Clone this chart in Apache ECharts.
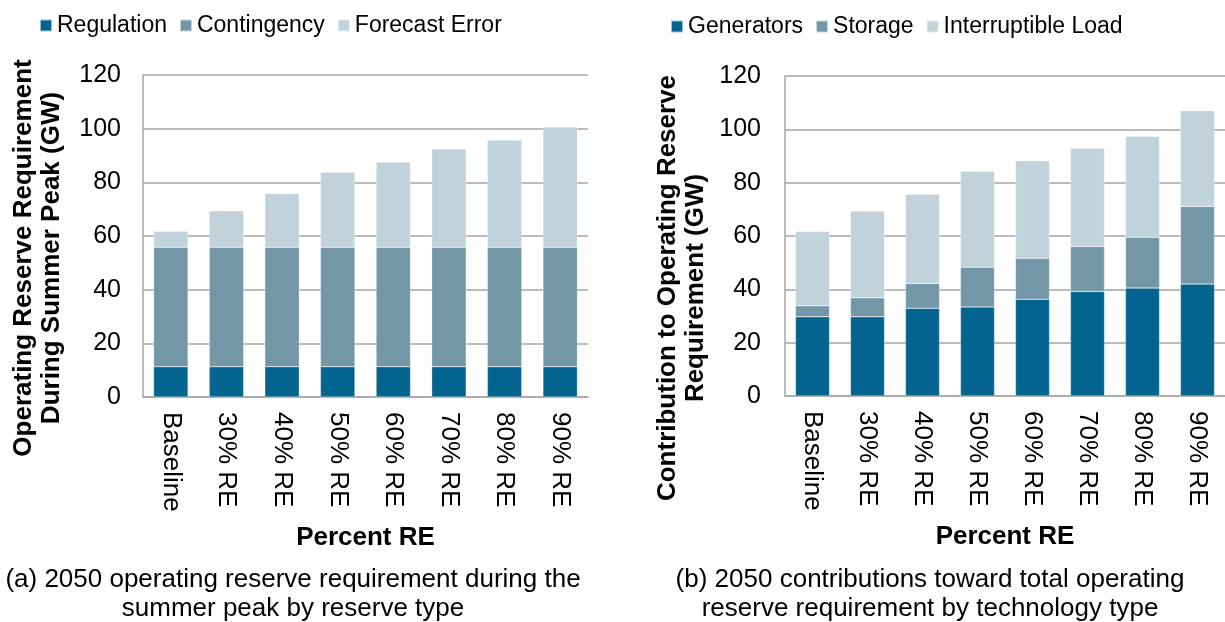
<!DOCTYPE html>
<html>
<head>
<meta charset="utf-8">
<script src="https://cdn.jsdelivr.net/npm/echarts@6/dist/echarts.min.js"></script>
<style>
  html, body { margin: 0; padding: 0; background: #fff; }
  #chart { width: 1225px; height: 622px; }
</style>
</head>
<body>
<div id="chart"></div>
<script>
// categories shared by both panels
var categories = ['Baseline', '30% RE', '40% RE', '50% RE', '60% RE', '70% RE', '80% RE', '90% RE'];

// (a) reserve type, GW
var regulation    = [11.3, 11.3, 11.3, 11.3, 11.3, 11.3, 11.3, 11.3];
var contingency   = [44.5, 44.5, 44.5, 44.5, 44.5, 44.5, 44.5, 44.5];
var forecastError = [6, 13.6, 20, 28, 31.8, 36.6, 40, 44.8];

// (b) technology type, GW
var generators    = [29.7, 29.7, 32.9, 33.4, 36.3, 39.2, 40.5, 42.0];
var storage       = [4.1, 7.1, 9.3, 14.9, 15.4, 16.9, 19.0, 29.1];
var interruptible = [27.9, 32.6, 33.5, 36.0, 36.5, 36.8, 37.9, 35.9];

var yTicks = [0, 20, 40, 60, 80, 100, 120];

var dark = '#03658f', mid = '#7397a7', light = '#c0d2da';
var gridColor = '#a6a6a6';
var font = 'Arial, "Liberation Sans", sans-serif';

var chart = echarts.init(document.getElementById('chart'));

function xAxisOf(i) {
  return {
    type: 'category',
    gridIndex: i,
    data: categories,
    axisTick: {show: false},
    axisLine: {lineStyle: {color: gridColor, width: 1.5}},
    axisLabel: {
      rotate: -90,
      margin: 15,
      fontSize: 26,
      fontFamily: font,
      color: '#000'
    },
    name: 'Percent RE',
    nameLocation: 'middle',
    nameGap: 128,
    nameTextStyle: {fontSize: 26, fontWeight: 'bold', fontFamily: font, color: '#000'}
  };
}

function yAxisOf(i, title, gap, labelGap, shift) {
  return {
    type: 'value',
    gridIndex: i,
    min: yTicks[0],
    max: yTicks[yTicks.length - 1],
    interval: 20,
    axisLine: {show: true, lineStyle: {color: gridColor, width: 1.5}},
    axisTick: {show: false},
    splitLine: {lineStyle: {color: gridColor, width: 1.5}},
    axisLabel: {margin: labelGap, fontSize: 25, fontFamily: font, color: '#000'},
    name: title,
    nameLocation: 'middle',
    nameGap: gap,
    nameRotate: 90,
    nameTextStyle: {fontSize: 26, fontWeight: 'bold', fontFamily: font, color: '#000',
                    lineHeight: 28, padding: [0, shift, 0, 0]}
  };
}

function bar(name, data, color, i) {
  return {
    name: name,
    type: 'bar',
    stack: 's' + i,
    xAxisIndex: i,
    yAxisIndex: i,
    data: data,
    barWidth: '62%',
    itemStyle: {color: color, borderColor: 'rgba(255,255,255,0.6)', borderWidth: 0.5}
  };
}

var legendText = {fontSize: 23, fontFamily: font, color: '#000'};

chart.setOption({
  animation: false,
  grid: [
    {left: 143, right: 637, top: 75, bottom: 225, outerBoundsMode: 'none'},
    {left: 785, right: 0, top: 76, bottom: 226, outerBoundsMode: 'none'}
  ],
  legend: [
    {left: 34, top: 9, icon: 'rect', itemWidth: 12, itemHeight: 12, itemGap: 12,
     textStyle: legendText, data: ['Regulation', 'Contingency', 'Forecast Error']},
    {left: 665, top: 10, icon: 'rect', itemWidth: 12, itemHeight: 12, itemGap: 12,
     textStyle: legendText, data: ['Generators', 'Storage', 'Interruptible Load']}
  ],
  xAxis: [xAxisOf(0), xAxisOf(1)],
  yAxis: [
    yAxisOf(0, 'Operating Reserve Requirement\nDuring Summer Peak (GW)', 77, 22, 44),
    yAxisOf(1, 'Contribution to Operating Reserve\nRequirement (GW)', 75, 24, 104)
  ],
  series: [
    bar('Regulation', regulation, dark, 0),
    bar('Contingency', contingency, mid, 0),
    bar('Forecast Error', forecastError, light, 0),
    bar('Generators', generators, dark, 1),
    bar('Storage', storage, mid, 1),
    bar('Interruptible Load', interruptible, light, 1)
  ],
  graphic: [
    {type: 'text', x: 293, y: 565, style: {
      text: '(a) 2050 operating reserve requirement during the\nsummer peak by reserve type',
      font: '26px ' + font, fill: '#000', align: 'center', lineHeight: 29}},
    {type: 'text', x: 930, y: 565, style: {
      text: '(b) 2050 contributions toward total operating\nreserve requirement by technology type',
      font: '26px ' + font, fill: '#000', align: 'center', lineHeight: 29}}
  ]
});
</script>
</body>
</html>
